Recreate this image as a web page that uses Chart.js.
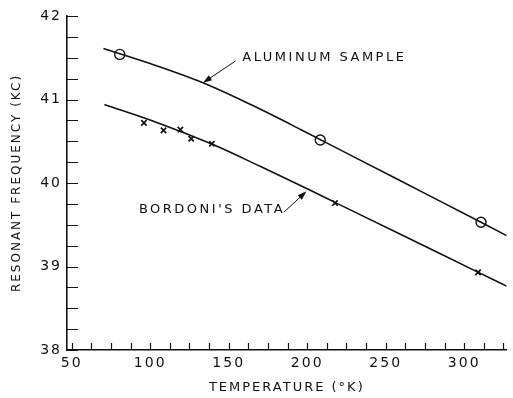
<!DOCTYPE html>
<html>
<head>
<meta charset="utf-8">
<script src="https://cdn.jsdelivr.net/npm/chart.js@4/dist/chart.umd.min.js"></script>
<style>
  html, body { margin: 0; padding: 0; background: #fff; }
  #wrap { width: 513px; height: 398px; position: relative; }
</style>
</head>
<body>
<div id="wrap"><canvas id="chart"></canvas></div>
<script>
// Measured points (temperature K, frequency kc)
const aluminumTemp = [80.6, 208.3, 310.7];
const aluminumFreq = [41.54, 40.515, 39.53];
const bordoniTemp = [96, 108.5, 119.2, 126.1, 139.3, 217.7, 308.8];
const bordoniFreq = [40.72, 40.63, 40.64, 40.53, 40.47, 39.76, 38.93];

// Smooth fitted curves
const aluminumCurveTemp = [70.2, 100, 133.6, 165, 196.4, 230, 260, 310.7, 327];
const aluminumCurveFreq = [41.61, 41.43, 41.2, 40.93, 40.635, 40.31, 40.02, 39.53, 39.37];
const bordoniCurveTemp = [70.8, 105, 140, 170, 200, 218, 260, 309, 327];
const bordoniCurveFreq = [40.94, 40.72, 40.46, 40.2, 39.93, 39.765, 39.38, 38.93, 38.765];

// Axis ticks
const xTicks = [];
for (let v = 50; v <= 325; v += 12.5) xTicks.push(v);
const yTicks = [];
for (let v = 38; v <= 42; v += 0.25) yTicks.push(v);

const pairs = (xs, ys) => xs.map((x, i) => ({ x: x, y: ys[i] }));

const FONT = "'DejaVu Sans', sans-serif";
const INK = '#111';

// Inward tick marks on both axes
const innerTicks = {
    id: 'innerTicks',
    afterDraw(chart) {
        const ctx = chart.ctx;
        const xs = chart.scales.x, ys = chart.scales.y;
        ctx.save();
        ctx.strokeStyle = INK;
        ctx.lineWidth = 1.2;
        ctx.beginPath();
        xTicks.forEach(v => {
            const px = Math.round(xs.getPixelForValue(v)) + 0.5;
            ctx.moveTo(px, ys.bottom);
            ctx.lineTo(px, ys.bottom - 7);
        });
        yTicks.forEach(v => {
            const py = Math.round(ys.getPixelForValue(v)) + 0.5;
            ctx.moveTo(xs.left, py);
            ctx.lineTo(xs.left + 11, py);
        });
        ctx.stroke();
        ctx.restore();
    }
};

// Text labels with pointer arrows
const notes = [
    { text: 'ALUMINUM SAMPLE', tx: 158.7, ty: 41.5, from: [154.3, 41.46], to: [133.6, 41.2] },
    { text: "BORDONI'S DATA", tx: 92.8, ty: 39.68, from: [185.1, 39.65], to: [199.5, 39.9] }
];

const pointers = {
    id: 'pointers',
    beforeLayout(chart) {
        chart.ctx.letterSpacing = '2px';
    },
    beforeDraw(chart) {
        chart.ctx.letterSpacing = '2px';
    },
    afterDraw(chart) {
        const ctx = chart.ctx;
        const xs = chart.scales.x, ys = chart.scales.y;
        ctx.save();
        ctx.fillStyle = INK;
        ctx.strokeStyle = INK;
        ctx.font = '13px ' + FONT;
        ctx.letterSpacing = '2.5px';
        ctx.textBaseline = 'middle';
        notes.forEach(n => {
            ctx.fillText(n.text, xs.getPixelForValue(n.tx), ys.getPixelForValue(n.ty));
            const x1 = xs.getPixelForValue(n.from[0]), y1 = ys.getPixelForValue(n.from[1]);
            const x2 = xs.getPixelForValue(n.to[0]), y2 = ys.getPixelForValue(n.to[1]);
            const a = Math.atan2(y2 - y1, x2 - x1);
            ctx.lineWidth = 1;
            ctx.beginPath();
            ctx.moveTo(x1, y1);
            ctx.lineTo(x2 - 6 * Math.cos(a), y2 - 6 * Math.sin(a));
            ctx.stroke();
            ctx.beginPath();
            ctx.moveTo(x2, y2);
            ctx.lineTo(x2 - 9 * Math.cos(a) + 3 * Math.sin(a), y2 - 9 * Math.sin(a) - 3 * Math.cos(a));
            ctx.lineTo(x2 - 9 * Math.cos(a) - 3 * Math.sin(a), y2 - 9 * Math.sin(a) + 3 * Math.cos(a));
            ctx.closePath();
            ctx.fill();
        });
        ctx.restore();
    }
};

new Chart(document.getElementById('chart'), {
    type: 'scatter',
    data: {
        datasets: [
            {
                label: 'Aluminum curve',
                data: pairs(aluminumCurveTemp, aluminumCurveFreq),
                showLine: true,
                borderColor: INK,
                borderWidth: 1.6,
                pointRadius: 0,
                cubicInterpolationMode: 'monotone'
            },
            {
                label: 'Bordoni curve',
                data: pairs(bordoniCurveTemp, bordoniCurveFreq),
                showLine: true,
                borderColor: INK,
                borderWidth: 1.6,
                pointRadius: 0,
                cubicInterpolationMode: 'monotone'
            },
            {
                label: 'Aluminum sample',
                data: pairs(aluminumTemp, aluminumFreq),
                pointStyle: 'circle',
                pointRadius: 5,
                pointBackgroundColor: '#fff',
                pointBorderColor: INK,
                pointBorderWidth: 1.4
            },
            {
                label: "Bordoni's data",
                data: pairs(bordoniTemp, bordoniFreq),
                pointStyle: 'crossRot',
                pointRadius: 3.8,
                pointBorderColor: INK,
                pointBorderWidth: 1.7
            }
        ]
    },
    options: {
        responsive: true,
        maintainAspectRatio: false,
        animation: false,
        layout: { padding: { top: 16, right: 0, left: 0, bottom: 0 } },
        plugins: {
            legend: { display: false },
            tooltip: { enabled: false }
        },
        scales: {
            x: {
                type: 'linear',
                min: 47,
                max: 327,
                afterBuildTicks: scale => { scale.ticks = xTicks.map(v => ({ value: v })); },
                afterFit: scale => { scale.height = 48; },
                ticks: {
                    autoSkip: false,
                    maxRotation: 0,
                    padding: 5,
                    color: INK,
                    font: { family: FONT, size: 14 },
                    callback: v => (v % 50 === 0 ? String(v) : '')
                },
                grid: { display: false, drawTicks: false },
                border: { color: INK, width: 1.6 },
                title: {
                    display: true,
                    text: 'TEMPERATURE (°K)',
                    color: INK,
                    font: { family: FONT, size: 13 },
                    padding: { top: 2, bottom: 3 }
                }
            },
            y: {
                min: 38,
                max: 42,
                afterBuildTicks: scale => { scale.ticks = yTicks.map(v => ({ value: v })); },
                afterFit: scale => { scale.width = 67; },
                ticks: {
                    autoSkip: false,
                    padding: 5,
                    color: INK,
                    font: { family: FONT, size: 14 },
                    callback: v => (Number.isInteger(v) ? String(v) : '')
                },
                grid: { display: false, drawTicks: false },
                border: { color: INK, width: 1.6 },
                title: {
                    display: true,
                    text: 'RESONANT FREQUENCY (KC)',
                    color: INK,
                    font: { family: FONT, size: 12 },
                    padding: { top: 10, bottom: 4 }
                }
            }
        }
    },
    plugins: [innerTicks, pointers]
});
</script>
</body>
</html>
